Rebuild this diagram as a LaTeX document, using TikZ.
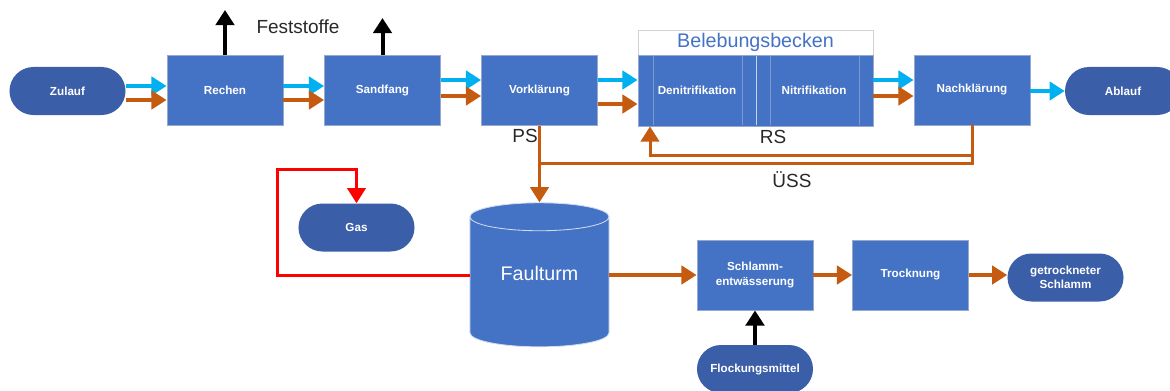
\documentclass[tikz,border=0pt]{standalone}
\usepackage{fontspec}
\setmainfont{Liberation Sans}
\usetikzlibrary{arrows.meta}
\usetikzlibrary{shapes.geometric}

\definecolor{boxblue}{RGB}{68,114,196}
\definecolor{pillblue}{RGB}{59,94,168}
\definecolor{boxedge}{RGB}{150,168,205}
\definecolor{wasser}{RGB}{0,176,240}
\definecolor{schlamm}{RGB}{197,90,17}
\definecolor{textgrau}{RGB}{40,40,40}

\begin{document}
\begin{tikzpicture}[x=0.025cm, y=-0.025cm, >={Triangle[length=0.38cm,width=0.46cm]},
    stufe/.style={rectangle, fill=boxblue, draw=boxedge, line width=0.6pt,
        minimum width=2.9cm, minimum height=1.75cm, inner sep=0pt,
        text=white, align=center, font=\fontsize{8.3}{10}\selectfont\bfseries},
    pille/.style={rectangle, rounded corners=0.6cm, fill=pillblue,
        minimum width=2.9cm, minimum height=1.2cm, inner sep=0pt,
        text=white, align=center, font=\fontsize{8.3}{10}\selectfont\bfseries},
    wasserpfeil/.style={->, wasser, line width=0.09cm},
    schlammpfeil/.style={->, schlamm, line width=0.09cm},
    schlammlinie/.style={schlamm, line width=0.075cm},
    gaslinie/.style={red, line width=0.075cm},
    feststoffpfeil/.style={->, black, line width=0.1cm},
    beschriftung/.style={text=textgrau, font=\fontsize{13.5}{15}\selectfont}]
    % Rahmen
    \useasboundingbox (0,0) rectangle (1170,390);

    % Wasserlinie
    \node[pille] (zulauf) at (67.5,91) {Zulauf};
    \node[stufe] (rechen) at (225,90.5) {Rechen};
    \node[stufe] (sandfang) at (382.5,90.5) {Sandfang};
    \node[stufe] (vorkl) at (539.5,90.5) {Vorkl\"arung};

    % Belebungsbecken mit Titelfeld
    \node[rectangle, draw=gray!35, fill=white, minimum width=5.875cm, minimum height=0.625cm,
        inner sep=0pt, text=boxblue, font=\fontsize{14}{16}\selectfont] (bbtitel) at (755.5,42.5) {Belebungsbecken};
    \node[stufe, minimum width=5.875cm, minimum height=1.775cm] (beleb) at (755.5,90.5) {};
    \foreach \x in {653,742,770,859}
        \draw[boxedge!70!boxblue, line width=0.6pt] (\x,56) -- (\x,125);
    \draw[white!70!boxblue, line width=0.6pt] (756,56) -- (756,125);
    \node[text=white, font=\fontsize{8.3}{10}\selectfont\bfseries] (deni) at (697,90) {Denitrifikation};
    \node[text=white, font=\fontsize{8.3}{10}\selectfont\bfseries] (nitri) at (814,90) {Nitrifikation};

    \node[stufe] (nachkl) at (972,90) {Nachkl\"arung};
    \node[pille] (ablauf) at (1123,91) {Ablauf};

    % Schlammlinie
    \node[cylinder, shape border rotate=90, aspect=0.36, minimum width=3.475cm, minimum height=3.6cm,
        fill=boxblue, draw=white!75!boxblue, line width=0.6pt, inner sep=0pt,
        font=\fontsize{14}{16}\selectfont] (faulturm) at (539.5,282) {\phantom{Faulturm}};
    \node[text=white, font=\fontsize{14}{16}\selectfont] (faultext) at (539.5,273) {Faulturm};
    \node[pille] (gas) at (356.5,227.5) {Gas};
    \node[stufe] (entw) at (755,275) {Schlamm-\\entw\"asserung};
    \node[stufe] (trocknung) at (910.5,275) {Trocknung};
    \node[pille] (getr) at (1065.5,277.5) {getrockneter\\Schlamm};
    \node[pille] (flock) at (755,369) {Flockungsmittel};

    % Pfeile Wasser / Schlamm
    \draw[wasserpfeil] (zulauf.east |- 0,86) -- (rechen.west |- 0,86);
    \draw[schlammpfeil] (zulauf.east |- 0,100) -- (rechen.west |- 0,100);
    \draw[wasserpfeil] (rechen.east |- 0,86) -- (sandfang.west |- 0,86);
    \draw[schlammpfeil] (rechen.east |- 0,100) -- (sandfang.west |- 0,100);
    \draw[wasserpfeil] (sandfang.east |- 0,80) -- (vorkl.west |- 0,80);
    \draw[schlammpfeil] (sandfang.east |- 0,96) -- (vorkl.west |- 0,96);
    \draw[wasserpfeil] (vorkl.east |- 0,80) -- (beleb.west |- 0,80);
    \draw[schlammpfeil] (vorkl.east |- 0,104) -- (beleb.west |- 0,104);
    \draw[wasserpfeil] (beleb.east |- 0,80) -- (nachkl.west |- 0,80);
    \draw[schlammpfeil] (beleb.east |- 0,96) -- (nachkl.west |- 0,96);
    \draw[wasserpfeil] (nachkl.east |- 0,91) -- (ablauf.west |- 0,91);

    % Feststoffe
    \coordinate (fest1) at (225,10);
    \coordinate (fest2) at (382.5,18);
    \draw[feststoffpfeil] (rechen.north) -- (fest1);
    \draw[feststoffpfeil] (sandfang.north) -- (fest2);
    \node[beschriftung] (feststoffe) at (298,27) {Feststoffe};

    % PS, RS, UESS
    \draw[schlammpfeil, line width=0.075cm] (vorkl.south) -- (vorkl.south |- faulturm.north);
    \draw[schlammlinie] (nachkl.south) -- (nachkl.south |- 0,163) -- (vorkl.south |- 0,163);
    \coordinate (rsknick) at (650,155);
    \draw[schlammpfeil, line width=0.075cm] (nachkl.south |- rsknick) -- (rsknick) -- (rsknick |- beleb.south);
    \node[beschriftung] (ps) at (525,136) {PS};
    \node[beschriftung] (rs) at (773,137) {RS};
    \node[beschriftung] (uess) at (792,180) {\"USS};

    % Gas
    \coordinate (gasknick) at (277,169);
    \draw[gaslinie, ->] (faulturm.west |- 0,275) -| (gasknick) -| (gas.north);

    % Schlammbehandlung
    \draw[schlammpfeil] (faulturm.east |- entw.west) -- (entw.west);
    \draw[schlammpfeil] (entw.east) -- (trocknung.west);
    \draw[schlammpfeil] (trocknung.east) -- (getr.west |- trocknung.east);
    \draw[feststoffpfeil] (flock.north) -- (entw.south);
\end{tikzpicture}
\end{document}
